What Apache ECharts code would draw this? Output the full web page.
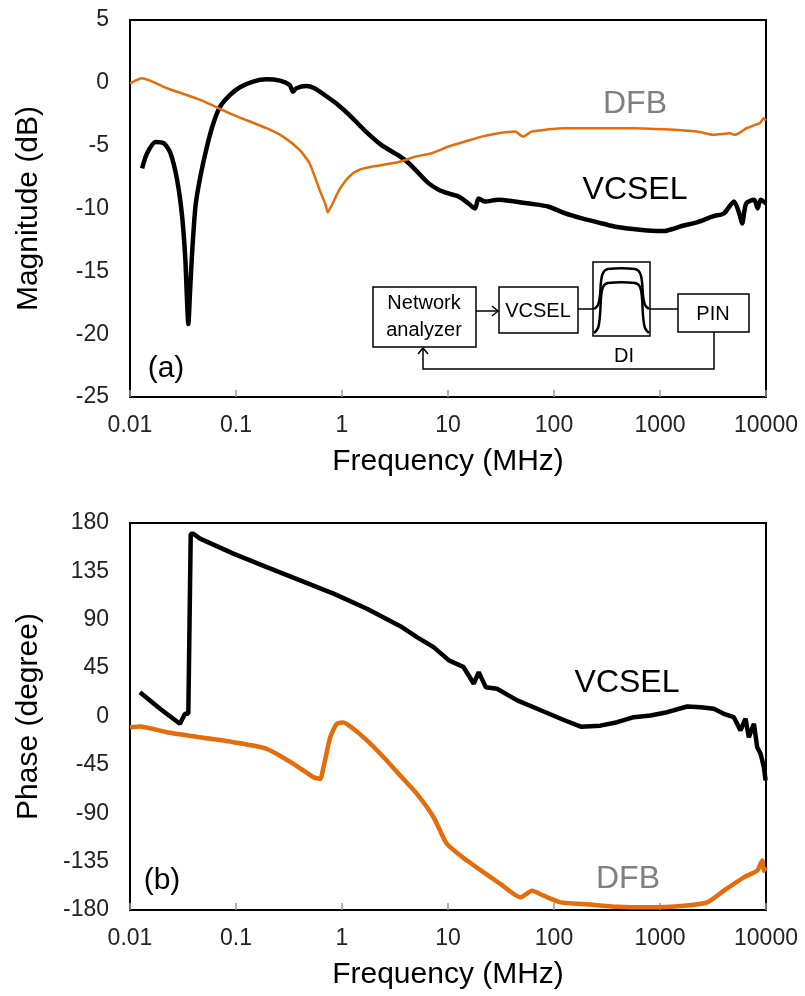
<!DOCTYPE html>
<html>
<head>
<meta charset="utf-8">
<script src="https://cdn.jsdelivr.net/npm/echarts@6/dist/echarts.min.js"></script>
<style>
html,body{margin:0;padding:0;background:#fff;}
#main{width:805px;height:996px;}
</style>
</head>
<body>
<div id="main"></div>
<script>
// ---------- Data ----------
const xTickLabels = ['0.01', '0.1', '1', '10', '100', '1000', '10000'];
const magTicks = [-25, -20, -15, -10, -5, 0, 5];
const phaseTicks = [-180, -135, -90, -45, 0, 45, 90, 135, 180];

// (a) Magnitude, VCSEL
const vcselMagFreq = [0.013, 0.0145, 0.0174, 0.0208, 0.0241, 0.0278, 0.031, 0.0333, 0.0345, 0.0355, 0.0368, 0.0385, 0.0415, 0.046, 0.0531, 0.0613, 0.0708, 0.0879, 0.109, 0.145, 0.194, 0.259, 0.321, 0.345, 0.371, 0.46, 0.551, 0.683, 0.879, 1.17, 1.68, 2.4, 3.44, 4.27, 5.3, 6.58, 8.16, 10.1, 12.6, 15.6, 18, 19.4, 22.4, 29.8, 42.7, 61.1, 87.7, 126, 180, 258, 370, 530, 759, 1088, 1350, 1675, 2234, 3200, 4000, 4990, 5600, 5950, 6500, 7740, 8330, 8900, 10000];
const vcselMagDb = [-6.8, -5.6, -4.7, -4.8, -5.6, -7.7, -10.6, -14.1, -17.3, -19.2, -16.7, -13.6, -9.8, -7.5, -5.1, -3.2, -1.9, -0.96, -0.35, 0.1, 0.28, 0.18, -0.17, -0.7, -0.43, -0.25, -0.43, -0.96, -1.63, -2.55, -3.88, -5.0, -5.8, -6.4, -7.2, -8.0, -8.5, -8.8, -9.05, -9.6, -10.0, -9.2, -9.45, -9.3, -9.45, -9.63, -9.84, -10.37, -10.77, -11.1, -11.43, -11.62, -11.75, -11.8, -11.6, -11.35, -11.1, -10.6, -10.4, -9.45, -10.4, -11.2, -9.6, -9.3, -10.0, -9.3, -9.6];

// (a) Magnitude, DFB
const dfbMagFreq = [0.01, 0.013, 0.0224, 0.046, 0.0944, 0.194, 0.278, 0.398, 0.494, 0.613, 0.7, 0.734, 0.77, 0.818, 0.944, 1.17, 1.45, 1.94, 3.44, 4.94, 7.06, 10.1, 14.5, 20.8, 29.8, 42.8, 51.2, 61.1, 87.7, 126, 258, 530, 1088, 2234, 3200, 4580, 5100, 6560, 7850, 8750, 9500, 10000];
const dfbMagDb = [-0.05, 0.36, -0.43, -1.36, -2.55, -3.61, -4.28, -5.34, -6.4, -8.5, -9.7, -10.3, -10.0, -9.58, -8.5, -7.46, -6.93, -6.66, -6.3, -5.87, -5.6, -5.07, -4.67, -4.28, -4.01, -3.88, -4.28, -3.88, -3.7, -3.61, -3.61, -3.61, -3.7, -3.88, -4.14, -4.01, -4.14, -3.61, -3.35, -3.2, -2.82, -3.0];

// (b) Phase, VCSEL
const vcselPhFreq = [0.0124, 0.0192, 0.0256, 0.0296, 0.033, 0.0355, 0.0374, 0.0396, 0.0458, 0.0944, 0.195, 0.403, 0.832, 1.72, 3.55, 5.09, 7.31, 10.2, 14, 17.5, 19.5, 22.7, 29, 45, 75.9, 127, 179, 274, 394, 566, 813, 1170, 1807, 2414, 3220, 4000, 4975, 5750, 6410, 6890, 7690, 8260, 8890, 9550, 9910];
const vcselPhDeg = [22.6, 7.2, -2.1, -6.8, 2.5, 2.5, 170, 170, 165.5, 151.5, 139, 126.7, 114.3, 100.3, 84, 73.9, 64.5, 52.2, 46, 30.5, 41.3, 27.3, 25.8, 15, 5.6, -3.7, -9.5, -8.5, -5.3, -0.6, 1, 4, 9.3, 8.7, 7.2, 2.5, -0.6, -13, -2.1, -19.3, -6.8, -28.6, -34.7, -47, -59.6];

// (b) Phase, DFB
const dfbPhFreq = [0.01, 0.0124, 0.0222, 0.0458, 0.0944, 0.195, 0.348, 0.538, 0.622, 0.669, 0.774, 0.895, 1.03, 1.28, 1.72, 2.47, 3.55, 5.09, 7.31, 9.77, 15.1, 21.7, 31.2, 48.2, 62.1, 80, 115, 191, 394, 813, 1680, 2790, 4010, 6180, 8260, 9220, 9550, 10000];
const dfbPhDeg = [-9.9, -9.3, -14.6, -19.3, -23.9, -30.1, -44, -56.5, -58, -47.2, -19.3, -6.8, -5.5, -11.4, -22.3, -37.9, -55, -72, -93.7, -118.5, -134, -145, -155.8, -168.2, -162, -166.7, -172.9, -174.4, -177, -177.5, -176, -172.9, -162, -149.6, -143.4, -134, -143.4, -140];

// ---------- Chart ----------
const zip = (xs, ys) => xs.map((x, i) => [x, ys[i]]);
const FONT = "'Liberation Sans', Arial, sans-serif";
const ORANGE = '#E46C0A';

const chart = echarts.init(document.getElementById('main'), null, {renderer: 'canvas'});

function xAxisCfg(gridIndex, gap) {
  return {
    type: 'log', logBase: 10, min: 0.01, max: 10000, gridIndex,
    name: 'Frequency (MHz)', nameLocation: 'middle', nameGap: gap,
    nameTextStyle: {fontSize: 30, color: '#000', fontFamily: FONT},
    axisLine: {show: true, onZero: false, lineStyle: {color: '#000', width: 2}},
    axisTick: {show: true, inside: true, length: 7, lineStyle: {color: '#999', width: 1.5}},
    axisLabel: {
      fontSize: 23, color: '#222', fontFamily: FONT, margin: 17,
      formatter: v => { const i = Math.round(Math.log10(v)) + 2; return xTickLabels[i] !== undefined ? xTickLabels[i] : ''; }
    },
    splitLine: {show: false}, minorTick: {show: false}
  };
}
function yAxisCfg(gridIndex, name, ticks) {
  return {
    type: 'value', gridIndex, name, nameLocation: 'middle', nameGap: 86,
    min: ticks[0], max: ticks[ticks.length - 1], interval: ticks[1] - ticks[0],
    nameTextStyle: {fontSize: 30, color: '#000', fontFamily: FONT},
    axisLine: {show: true, onZero: false, lineStyle: {color: '#000', width: 2}},
    axisTick: {show: false},
    axisLabel: {fontSize: 23, color: '#222', fontFamily: FONT, margin: 21},
    splitLine: {show: false}
  };
}

const txt = (x, y, text, size, color, extra) => Object.assign({
  type: 'text', x, y, z: 100,
  style: {text, fontSize: size, fontFamily: FONT, fill: color, align: 'center', verticalAlign: 'middle'}
}, extra || {});
const boxStyle = {fill: '#fff', stroke: '#000', lineWidth: 1.5};
const lineStyle = {stroke: '#000', lineWidth: 1.5, fill: null};

const graphic = [
  txt(635, 104, 'DFB', 32, '#808080'),
  txt(635, 190, 'VCSEL', 32, '#000'),
  txt(166, 369, '(a)', 30, '#000'),
  txt(627, 683, 'VCSEL', 32, '#000'),
  txt(628, 879, 'DFB', 32, '#808080'),
  txt(162, 881, '(b)', 30, '#000'),
  // inset block diagram
  {type: 'rect', z: 100, shape: {x: 373, y: 287, width: 103, height: 60}, style: boxStyle},
  txt(424, 303, 'Network', 20, '#000'),
  txt(424, 330, 'analyzer', 20, '#000'),
  {type: 'rect', z: 100, shape: {x: 499, y: 287, width: 79, height: 46}, style: boxStyle},
  txt(538, 311, 'VCSEL', 20, '#000'),
  {type: 'rect', z: 100, shape: {x: 593, y: 262, width: 57, height: 74}, style: boxStyle},
  txt(624, 356, 'DI', 20, '#000'),
  {type: 'rect', z: 100, shape: {x: 678, y: 294, width: 71, height: 38}, style: boxStyle},
  txt(713, 314, 'PIN', 20, '#000'),
  {type: 'line', z: 100, shape: {x1: 476, y1: 311, x2: 498, y2: 311}, style: lineStyle},
  {type: 'polyline', z: 100, shape: {points: [[492, 306], [498, 311], [492, 316]]}, style: lineStyle},
  {type: 'line', z: 100, shape: {x1: 578, y1: 309, x2: 594, y2: 309}, style: lineStyle},
  {type: 'line', z: 100, shape: {x1: 650, y1: 309, x2: 678, y2: 309}, style: lineStyle},
  {type: 'polyline', z: 100, shape: {points: [[714, 332], [714, 369], [423, 369], [423, 348]]}, style: lineStyle},
  {type: 'polyline', z: 100, shape: {points: [[418, 354], [423, 348], [428, 354]]}, style: lineStyle},
  {type: 'polyline', z: 101, shape: {smooth: 0.35, points: [[594, 309], [598, 305], [600, 295], [601, 282], [603, 273], [608, 269], [635, 269], [640, 273], [642, 282], [643, 295], [645, 305], [649, 309]]}, style: {stroke: '#000', lineWidth: 2.5, fill: null}},
  {type: 'polyline', z: 101, shape: {smooth: 0.35, points: [[594, 333], [598, 328], [600, 315], [601, 298], [603, 287], [608, 283], [635, 283], [640, 287], [642, 298], [643, 315], [645, 328], [649, 333]]}, style: {stroke: '#000', lineWidth: 2.5, fill: null}}
];

chart.setOption({
  animation: false,
  backgroundColor: '#fff',
  textStyle: {fontFamily: FONT},
  grid: [
    {left: 130, top: 20, width: 636, height: 377, show: true, borderColor: '#000', borderWidth: 2, backgroundColor: 'transparent'},
    {left: 130, top: 523, width: 636, height: 387, show: true, borderColor: '#000', borderWidth: 2, backgroundColor: 'transparent'}
  ],
  xAxis: [xAxisCfg(0, 50), xAxisCfg(1, 50)],
  yAxis: [yAxisCfg(0, 'Magnitude (dB)', magTicks), yAxisCfg(1, 'Phase (degree)', phaseTicks)],
  series: [
    {name: 'VCSEL', type: 'line', xAxisIndex: 0, yAxisIndex: 0, data: zip(vcselMagFreq, vcselMagDb), showSymbol: false, smooth: 0.25, lineStyle: {color: '#000', width: 4.5}, z: 3},
    {name: 'DFB', type: 'line', xAxisIndex: 0, yAxisIndex: 0, data: zip(dfbMagFreq, dfbMagDb), showSymbol: false, smooth: 0.2, lineStyle: {color: ORANGE, width: 2.5}, z: 4},
    {name: 'VCSEL', type: 'line', xAxisIndex: 1, yAxisIndex: 1, data: zip(vcselPhFreq, vcselPhDeg), showSymbol: false, smooth: false, lineStyle: {color: '#000', width: 4.5}, z: 3},
    {name: 'DFB', type: 'line', xAxisIndex: 1, yAxisIndex: 1, data: zip(dfbPhFreq, dfbPhDeg), showSymbol: false, smooth: 0.2, lineStyle: {color: ORANGE, width: 4.5}, z: 4}
  ],
  graphic
});
</script>
</body>
</html>
